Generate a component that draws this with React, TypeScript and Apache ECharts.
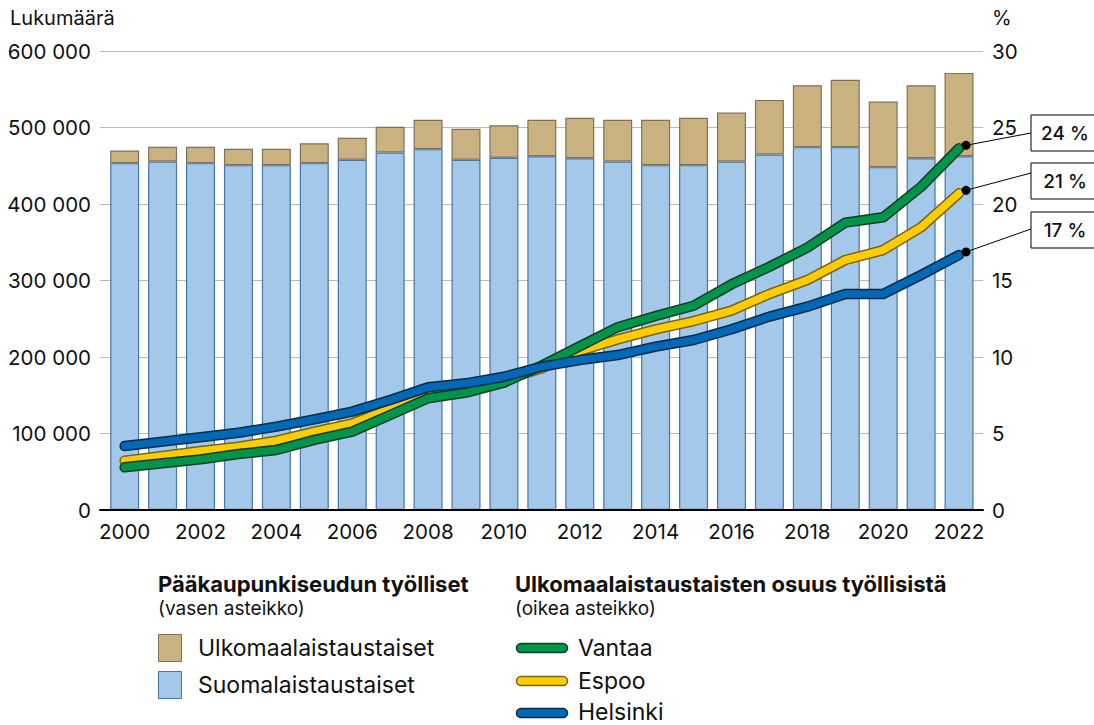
import React, { useEffect, useRef } from "react";
import * as echarts from "echarts";

const years = ["2000", "2001", "2002", "2003", "2004", "2005", "2006", "2007", "2008", "2009", "2010", "2011", "2012", "2013", "2014", "2015", "2016", "2017", "2018", "2019", "2020", "2021", "2022"];
const finnishBg = [453400, 455600, 453400, 450800, 450800, 453400, 457800, 467400, 471700, 457800, 460400, 462400, 459900, 455600, 450800, 450800, 455600, 464800, 474300, 474300, 448200, 459900, 462500];
const foreignBg = [16600, 19200, 21400, 21400, 21400, 26100, 28800, 33500, 38300, 40500, 42600, 47600, 52800, 54400, 59200, 61900, 64000, 71300, 80900, 88000, 85700, 95300, 108900];
const vantaa = [2.79, 3.05, 3.31, 3.66, 3.92, 4.58, 5.12, 6.21, 7.3, 7.67, 8.32, 9.45, 10.7, 11.95, 12.68, 13.35, 14.75, 15.9, 17.15, 18.78, 19.13, 21.13, 23.64];
const espoo = [3.22, 3.53, 3.86, 4.14, 4.53, 5.12, 5.66, 6.64, 7.63, 7.95, 8.5, 9.26, 10.4, 11.15, 11.81, 12.35, 13.03, 14.12, 15.03, 16.34, 16.99, 18.48, 20.7];
const helsinki = [4.18, 4.47, 4.75, 5.05, 5.45, 5.92, 6.43, 7.19, 8.02, 8.28, 8.71, 9.37, 9.8, 10.13, 10.68, 11.11, 11.81, 12.64, 13.29, 14.12, 14.12, 15.36, 16.67];
const endLabels = ["24 %", "21 %", "17 %"];

const FONT = "Inter, 'Noto Sans', sans-serif";
const AX = 20.5;
const C = {
  tan: "#c9b27f",
  tanBorder: "#7e7258",
  blueBar: "#a3c8ea",
  blueBarBorder: "#4676a3",
  green: "#00944a",
  greenOut: "#123d25",
  yellow: "#ffcc00",
  yellowOut: "#776417",
  blue: "#0068b4",
  blueOut: "#0c2b4b",
  text: "#111111",
  grid: "#b8b8b8",
};

function lineSeries(name: string, vals: number[], color: string, outline: string) {
  const base = { type: "line", xAxisIndex: 1, yAxisIndex: 3, data: vals, symbol: "none", silent: true };
  return [
    { ...base, name: name + "-outline", lineStyle: { color: outline, width: 10.5, cap: "round", join: "round" } },
    { ...base, name, lineStyle: { color, width: 7.5, cap: "round", join: "round" } },
  ];
}

export default function App() {
  const ref = useRef<HTMLDivElement>(null);
  useEffect(() => {
    if (!ref.current) return;
    const chart = echarts.init(ref.current, undefined, { renderer: "svg" });
    const option: any = {
      animation: false,
      textStyle: { fontFamily: FONT },
      grid: [
        { left: 100, right: 111, top: 51, bottom: 215 },
        { left: 105.7, right: 116, top: 51, bottom: 215 },
      ],
      xAxis: [
        {
          type: "value",
          gridIndex: 0,
          min: 0,
          max: 1,
          z: 10,
          axisLine: { show: true, lineStyle: { color: "#000", width: 2 } },
          axisTick: { show: false },
          axisLabel: { show: false },
          splitLine: { show: false },
        },
        {
          type: "category",
          gridIndex: 1,
          data: years,
          boundaryGap: true,
          axisLine: { show: false },
          axisTick: { show: false },
          splitLine: { show: false },
          axisLabel: { interval: 1, color: C.text, fontSize: AX, fontFamily: FONT, margin: 11 },
        },
      ],
      yAxis: [
        {
          type: "value",
          gridIndex: 0,
          min: 0,
          max: 600000,
          interval: 100000,
          axisLine: { show: false },
          axisTick: { show: false },
          splitLine: { show: true, lineStyle: { color: C.grid, width: 1 } },
          axisLabel: {
            color: C.text,
            fontSize: AX,
            fontFamily: FONT,
            margin: 9,
            formatter: (v: number) => String(v).replace(/\B(?=(\d{3})+(?!\d))/g, " "),
          },
        },
        {
          type: "value",
          gridIndex: 0,
          position: "right",
          min: 0,
          max: 30,
          interval: 5,
          axisLine: { show: false },
          axisTick: { show: false },
          splitLine: { show: false },
          axisLabel: { color: C.text, fontSize: AX, fontFamily: FONT, margin: 9 },
        },
        { type: "value", gridIndex: 1, min: 0, max: 600000, show: false, splitLine: { show: false } },
        { type: "value", gridIndex: 1, min: 0, max: 30, show: false, splitLine: { show: false } },
      ],
      series: [
        {
          name: "Suomalaistaustaiset",
          type: "bar",
          xAxisIndex: 1,
          yAxisIndex: 2,
          stack: "tot",
          barWidth: 29,
          data: finnishBg,
          itemStyle: { color: C.blueBar, borderColor: C.blueBarBorder, borderWidth: 1.2 },
          silent: true,
        },
        {
          name: "Ulkomaalaistaustaiset",
          type: "bar",
          xAxisIndex: 1,
          yAxisIndex: 2,
          stack: "tot",
          barWidth: 29,
          data: foreignBg,
          itemStyle: { color: C.tan, borderColor: C.tanBorder, borderWidth: 1.2 },
          silent: true,
        },
        ...lineSeries("Espoo", espoo, C.yellow, C.yellowOut),
        ...lineSeries("Vantaa", vantaa, C.green, C.greenOut),
        ...lineSeries("Helsinki", helsinki, C.blue, C.blueOut),
      ],
    };
    chart.setOption(option);

    const last = years.length - 1;
    const ends = [
      chart.convertToPixel({ seriesIndex: 5 }, [last, vantaa[last]]) as number[],
      chart.convertToPixel({ seriesIndex: 3 }, [last, espoo[last]]) as number[],
      chart.convertToPixel({ seriesIndex: 7 }, [last, helsinki[last]]) as number[],
    ];
    const boxTops = [115, 163, 212];
    const leaderY = [133, 173, 229];
    const boxX = 1031;
    const annot: any[] = [];
    ends.forEach((p, i) => {
      const dx = p[0] + 7;
      const dy = p[1] - 3;
      annot.push({
        type: "line",
        shape: { x1: dx, y1: dy, x2: boxX, y2: leaderY[i] },
        style: { stroke: "#000", lineWidth: 1 },
        z: 100,
      });
      annot.push({
        type: "circle",
        shape: { cx: dx, cy: dy, r: 4.5 },
        style: { fill: "#000" },
        z: 101,
      });
      annot.push({
        type: "rect",
        shape: { x: boxX, y: boxTops[i], width: 70, height: 36 },
        style: { fill: "#fff", stroke: "#000", lineWidth: 1 },
        z: 100,
      });
      annot.push({
        type: "text",
        style: {
          text: endLabels[i],
          x: 1065,
          y: boxTops[i] + 18,
          align: "center",
          verticalAlign: "middle",
          textAlign: "center",
          textVerticalAlign: "middle",
          font: "500 19px " + FONT,
          fill: C.text,
        },
        z: 102,
      });
    });

    const txt = (text: string, x: number, y: number, size: number, weight = "normal") => ({
      type: "text",
      style: {
        text,
        x,
        y,
        verticalAlign: "middle",
        textVerticalAlign: "middle",
        font: `${weight} ${size}px ${FONT}`,
        fill: C.text,
      },
    });
    const legLine = (y: number, color: string, outline: string) => [
      {
        type: "line",
        shape: { x1: 521, y1: y, x2: 563, y2: y },
        style: { stroke: outline, lineWidth: 10.5, lineCap: "round" },
      },
      {
        type: "line",
        shape: { x1: 521, y1: y, x2: 563, y2: y },
        style: { stroke: color, lineWidth: 7.5, lineCap: "round" },
      },
    ];
    const legend: any[] = [
      txt("Lukumäärä", 10, 18, 20),
      txt("%", 992, 18, 20),
      txt("Pääkaupunkiseudun työlliset", 158, 584, 22, "bold"),
      txt("(vasen asteikko)", 158, 608, 19),
      {
        type: "rect",
        shape: { x: 158.5, y: 634.5, width: 23, height: 27 },
        style: { fill: C.tan, stroke: C.tanBorder, lineWidth: 1 },
      },
      txt("Ulkomaalaistaustaiset", 198, 648, 23),
      {
        type: "rect",
        shape: { x: 158.5, y: 671.5, width: 23, height: 27 },
        style: { fill: C.blueBar, stroke: C.blueBarBorder, lineWidth: 1 },
      },
      txt("Suomalaistaustaiset", 198, 685, 23),
      txt("Ulkomaalaistaustaisten osuus työllisistä", 515, 584, 22, "bold"),
      txt("(oikea asteikko)", 515, 608, 19),
      ...legLine(648, C.green, C.greenOut),
      txt("Vantaa", 578, 648, 23),
      ...legLine(681, C.yellow, C.yellowOut),
      txt("Espoo", 578, 681, 23),
      ...legLine(713, C.blue, C.blueOut),
      txt("Helsinki", 578, 712, 23),
    ];
    chart.setOption({ graphic: [...legend, ...annot] });

    return () => chart.dispose();
  }, []);
  return (
    <div
      ref={ref}
      style={{ position: "fixed", left: 0, top: 0, width: 1094, height: 725, background: "#fff" }}
    />
  );
}
